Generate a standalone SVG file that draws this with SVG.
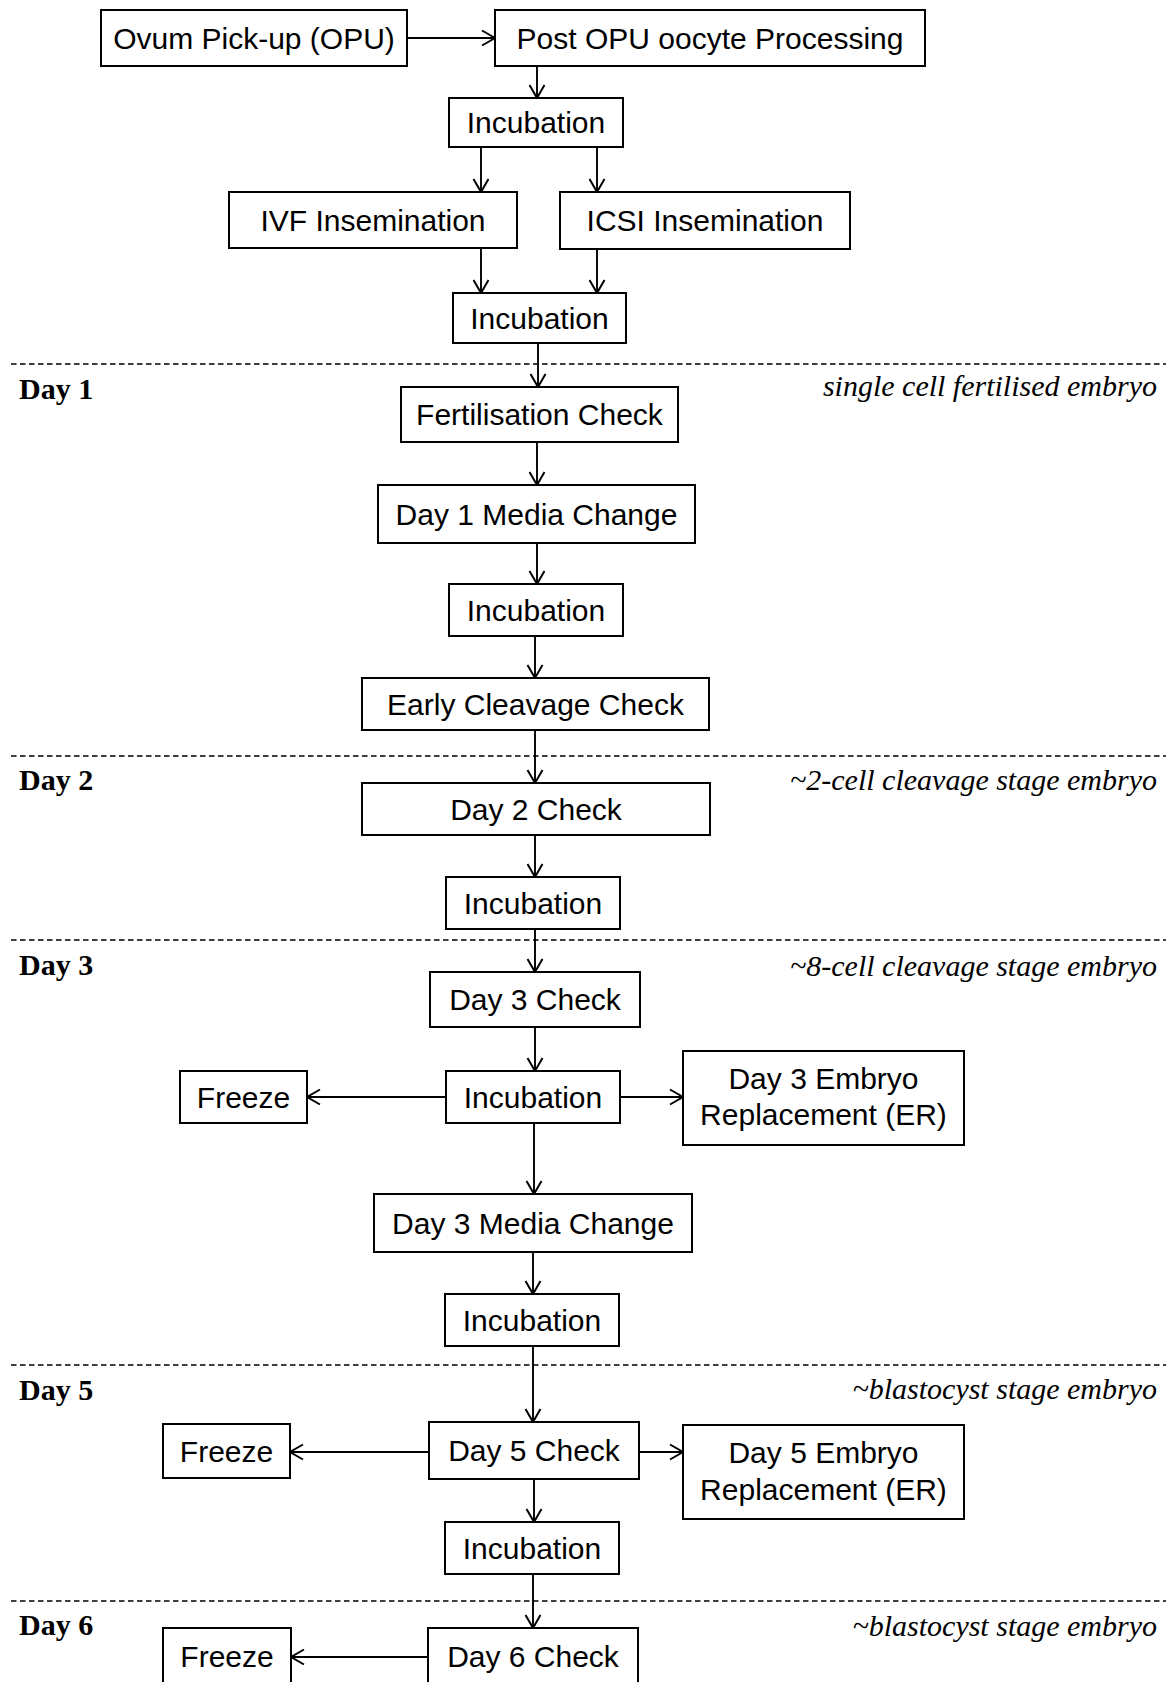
<svg xmlns="http://www.w3.org/2000/svg" width="1170" height="1682" viewBox="0 0 1170 1682">
  <defs>
    <marker id="arrow" markerUnits="userSpaceOnUse" viewBox="-15 -10 17 20" markerWidth="17" markerHeight="20" refX="0" refY="0" orient="auto">
      <path d="M-13,-7.5 L0,0 L-13,7.5" fill="none" stroke="#000" stroke-width="2"/>
    </marker>
    <style>
      .box rect { fill: #fff; stroke: #000; stroke-width: 2; }
      .box text { font-family: "Liberation Sans", Arial, sans-serif; font-size: 30px; fill: #000; text-anchor: middle; }
      .conn path { fill: none; stroke: #000; stroke-width: 1.9; marker-end: url(#arrow); }
      .conn path.side { stroke-width: 2.2; }
      .divider { stroke: #000; stroke-width: 1.6; stroke-dasharray: 5.5 3.5; }
      .day { font-family: "Liberation Serif", "Times New Roman", serif; font-weight: bold; font-size: 30px; fill: #000; }
      .stage { font-family: "Liberation Serif", "Times New Roman", serif; font-style: italic; font-size: 30px; fill: #000; text-anchor: end; }
    </style>
  </defs>
  <rect x="0" y="0" width="1170" height="1682" fill="#fff"/>

  <!-- day separators -->
  <g id="dividers">
    <line class="divider" x1="11" y1="364" x2="1166" y2="364"/>
    <line class="divider" x1="11" y1="756" x2="1166" y2="756"/>
    <line class="divider" x1="11" y1="940" x2="1166" y2="940"/>
    <line class="divider" x1="11" y1="1365" x2="1166" y2="1365"/>
    <line class="divider" x1="11" y1="1601" x2="1166" y2="1601"/>
  </g>

  <!-- day labels and embryo stages -->
  <g id="labels">
    <text class="day" x="19" y="399">Day 1</text>
    <text class="stage" x="1157" y="396">single cell fertilised embryo</text>
    <text class="day" x="19" y="790">Day 2</text>
    <text class="stage" x="1157" y="790">~2-cell cleavage stage embryo</text>
    <text class="day" x="19" y="975">Day 3</text>
    <text class="stage" x="1157" y="976">~8-cell cleavage stage embryo</text>
    <text class="day" x="19" y="1400">Day 5</text>
    <text class="stage" x="1157" y="1399">~blastocyst stage embryo</text>
    <text class="day" x="19" y="1635">Day 6</text>
    <text class="stage" x="1157" y="1636">~blastocyst stage embryo</text>
  </g>

  <!-- connectors -->
  <g id="connectors" class="conn">
    <path class="side" d="M406,38 H495"/>
    <path d="M537,66 V98"/>
    <path d="M481,147 V192"/>
    <path d="M597,147 V192"/>
    <path d="M481,248 V293"/>
    <path d="M597,249 V293"/>
    <path d="M538,343 V387"/>
    <path d="M537,442 V485"/>
    <path d="M537,543 V584"/>
    <path d="M535,636 V678"/>
    <path d="M535,730 V783"/>
    <path d="M535,835 V877"/>
    <path d="M535,929 V972"/>
    <path d="M535,1027 V1071"/>
    <path class="side" d="M446,1097 H307"/>
    <path class="side" d="M620,1097 H683"/>
    <path d="M534,1123 V1194"/>
    <path d="M533,1252 V1294"/>
    <path d="M533,1346 V1422"/>
    <path class="side" d="M429,1452 H290"/>
    <path class="side" d="M639,1452 H683"/>
    <path d="M534,1479 V1522"/>
    <path d="M533,1574 V1628"/>
    <path class="side" d="M428,1657 H291"/>
  </g>

  <!-- process steps -->
  <g id="opu" class="box"><rect x="101" y="10" width="306" height="56"/><text x="254" y="49">Ovum Pick-up (OPU)</text></g>
  <g id="post-opu" class="box"><rect x="495" y="10" width="430" height="56"/><text x="710" y="49">Post OPU oocyte Processing</text></g>
  <g id="incubation-1" class="box"><rect x="449" y="98" width="174" height="49"/><text x="536" y="133">Incubation</text></g>
  <g id="ivf" class="box"><rect x="229" y="192" width="288" height="56"/><text x="373" y="231">IVF Insemination</text></g>
  <g id="icsi" class="box"><rect x="560" y="192" width="290" height="57"/><text x="705" y="231">ICSI Insemination</text></g>
  <g id="incubation-2" class="box"><rect x="453" y="293" width="173" height="50"/><text x="539.5" y="328.5">Incubation</text></g>
  <g id="fertilisation-check" class="box"><rect x="401" y="387" width="277" height="55"/><text x="539.5" y="425">Fertilisation Check</text></g>
  <g id="day1-media" class="box"><rect x="378" y="485" width="317" height="58"/><text x="536.5" y="524.5">Day 1 Media Change</text></g>
  <g id="incubation-3" class="box"><rect x="449" y="584" width="174" height="52"/><text x="536" y="620.5">Incubation</text></g>
  <g id="early-cleavage" class="box"><rect x="362" y="678" width="347" height="52"/><text x="535.5" y="714.5">Early Cleavage Check</text></g>
  <g id="day2-check" class="box"><rect x="362" y="783" width="348" height="52"/><text x="536" y="819.5">Day 2 Check</text></g>
  <g id="incubation-4" class="box"><rect x="446" y="877" width="174" height="52"/><text x="533" y="913.5">Incubation</text></g>
  <g id="day3-check" class="box"><rect x="430" y="972" width="210" height="55"/><text x="535" y="1010">Day 3 Check</text></g>
  <g id="incubation-5" class="box"><rect x="446" y="1071" width="174" height="52"/><text x="533" y="1107.5">Incubation</text></g>
  <g id="freeze-day3" class="box"><rect x="180" y="1071" width="127" height="52"/><text x="243.5" y="1107.5">Freeze</text></g>
  <g id="er-day3" class="box"><rect x="683" y="1051" width="281" height="94"/><text x="823.5" y="1088.5">Day 3 Embryo</text><text x="823.5" y="1125">Replacement (ER)</text></g>
  <g id="day3-media" class="box"><rect x="374" y="1194" width="318" height="58"/><text x="533" y="1233.5">Day 3 Media Change</text></g>
  <g id="incubation-6" class="box"><rect x="445" y="1294" width="174" height="52"/><text x="532" y="1330.5">Incubation</text></g>
  <g id="day5-check" class="box"><rect x="429" y="1422" width="210" height="57"/><text x="534" y="1461">Day 5 Check</text></g>
  <g id="freeze-day5" class="box"><rect x="163" y="1424" width="127" height="54"/><text x="226.5" y="1461.5">Freeze</text></g>
  <g id="er-day5" class="box"><rect x="683" y="1425" width="281" height="94"/><text x="823.5" y="1462.5">Day 5 Embryo</text><text x="823.5" y="1499.5">Replacement (ER)</text></g>
  <g id="incubation-7" class="box"><rect x="445" y="1522" width="174" height="52"/><text x="532" y="1558.5">Incubation</text></g>
  <g id="day6-check" class="box"><rect x="428" y="1628" width="210" height="60"/><text x="533" y="1667">Day 6 Check</text></g>
  <g id="freeze-day6" class="box"><rect x="163" y="1628" width="128" height="60"/><text x="227" y="1667">Freeze</text></g>
</svg>
